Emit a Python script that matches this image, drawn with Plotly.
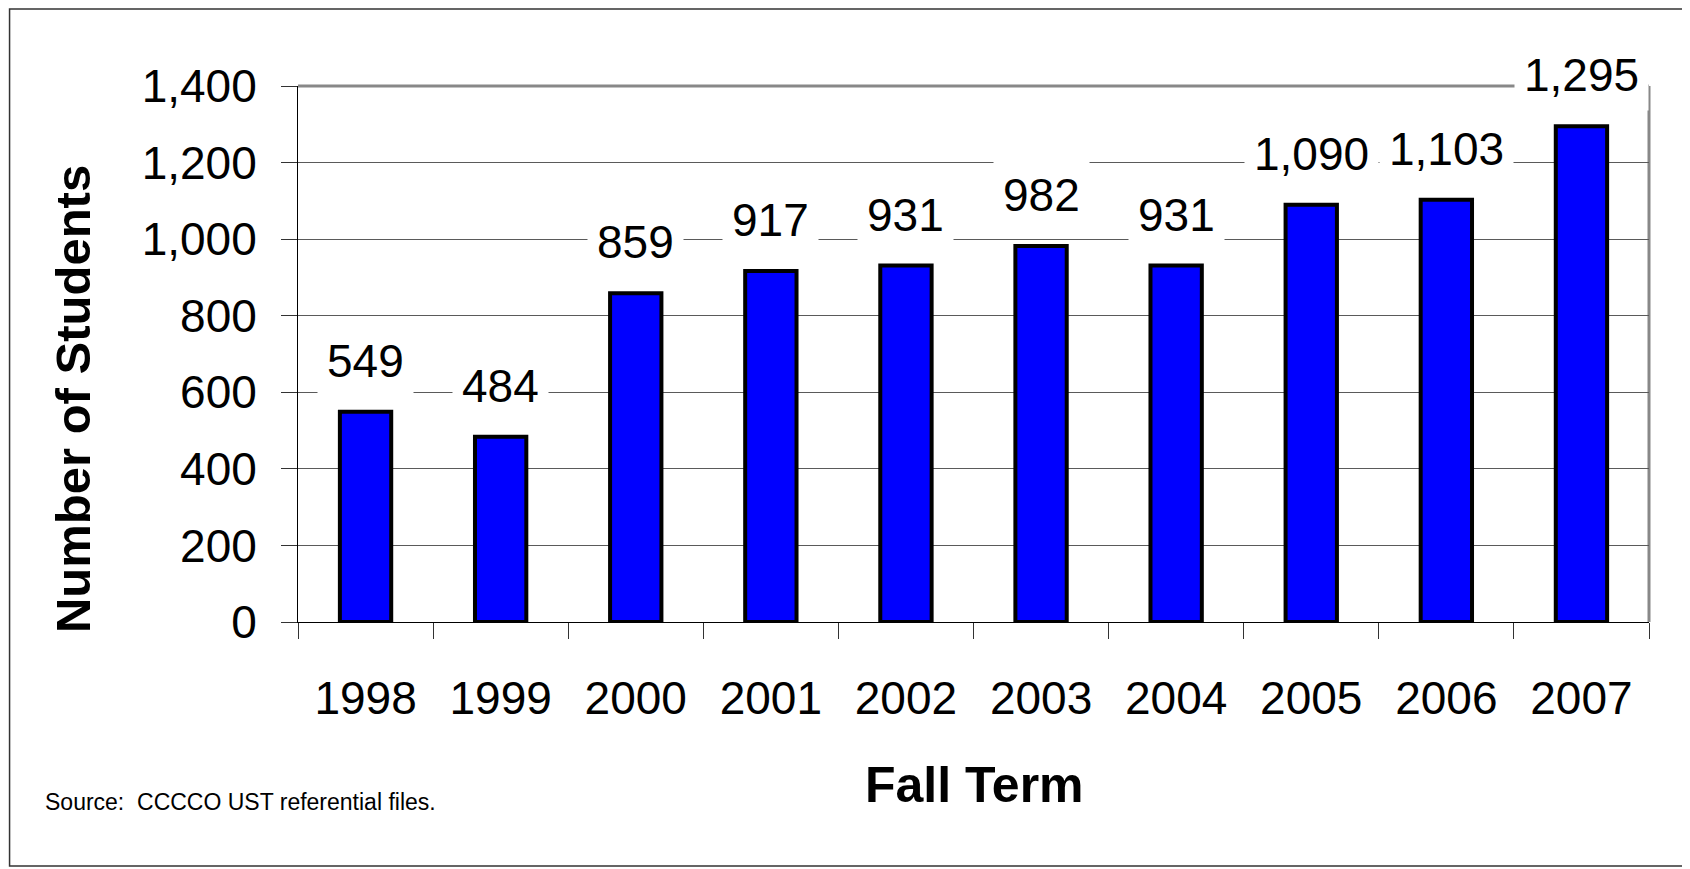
import plotly.graph_objects as go

# Fall term headcounts
years = ['1998', '1999', '2000', '2001', '2002', '2003', '2004', '2005', '2006', '2007']
students = [549, 484, 859, 917, 931, 982, 931, 1090, 1103, 1295]
y_ticks = [0, 200, 400, 600, 800, 1000, 1200, 1400]

FONT = 'Liberation Sans, Arial, sans-serif'

bars = go.Bar(x=years,
              y=students,
              width=0.38,
              marker={'color': '#0000FF',
                      'line': {'color': '#000000', 'width': 4}},
              hoverinfo='skip')

# value labels with white boxes that break the grid lines
# (x given as category index, otherwise '1998' is read as a number)
labels = []
for i, n in enumerate(students):
    labels.append(dict(x=i, y=n, xref='x', yref='y',
                       text=f'{n:,}', showarrow=False,
                       yanchor='middle', yshift=51,
                       bgcolor='white', borderpad=9,
                       font={'family': FONT, 'size': 46, 'color': 'black'}))

labels.append(dict(x=-0.1665, y=0.416, xref='paper', yref='paper',
                   text='<b>Number of Students</b>', textangle=-90,
                   showarrow=False, xanchor='center', yanchor='middle',
                   font={'family': FONT, 'size': 49, 'color': 'black'}))
labels.append(dict(x=0.501, y=-0.304, xref='paper', yref='paper',
                   text='<b>Fall Term</b>', showarrow=False,
                   xanchor='center', yanchor='middle',
                   font={'family': FONT, 'size': 50, 'color': 'black'}))
labels.append(dict(x=-0.1888, y=-0.336, xref='paper', yref='paper',
                   text='Source:  CCCCO UST referential files.', showarrow=False,
                   xanchor='left', yanchor='middle',
                   font={'family': FONT, 'size': 23, 'color': 'black'}))

frame = [
    # outer border of the chart
    dict(type='rect', xref='paper', yref='paper',
         x0=-0.2135, x1=1.0281, y0=-0.4552, y1=1.1435,
         line={'color': '#333333', 'width': 1.5}, layer='below'),
    # grey top and right edges of the plot area
    dict(type='line', xref='paper', yref='paper', x0=0, x1=1, y0=1, y1=1,
         line={'color': '#888888', 'width': 3}, layer='below'),
    dict(type='line', xref='paper', yref='paper', x0=1, x1=1, y0=0, y1=1,
         line={'color': '#888888', 'width': 3}, layer='below'),
]

# page body has an 8px margin, so the figure is 8px smaller than the window
layout = go.Layout(width=1682, height=861,
                   margin={'l': 290, 'r': 41, 't': 78, 'b': 247},
                   paper_bgcolor='white', plot_bgcolor='white',
                   showlegend=False,
                   font={'family': FONT, 'color': 'black'},
                   xaxis={'type': 'category',
                          'range': [-0.5, len(years) - 0.5],
                          'tickangle': 0,
                          'tickfont': {'size': 46},
                          'ticks': 'outside', 'tickson': 'boundaries',
                          'ticklen': 16, 'tickcolor': '#333333', 'tickwidth': 1,
                          'ticklabelstandoff': 36,
                          'showline': True, 'linecolor': '#000000', 'linewidth': 1,
                          'showgrid': False},
                   yaxis={'range': [0, 1400],
                          'tickvals': y_ticks, 'tickformat': ',',
                          'tickfont': {'size': 46},
                          'ticks': 'outside', 'ticklen': 16,
                          'tickcolor': '#333333', 'tickwidth': 1,
                          'ticklabelstandoff': 15,
                          'showline': True, 'linecolor': '#000000', 'linewidth': 1,
                          'showgrid': True, 'gridcolor': '#5a5a5a', 'gridwidth': 1.3,
                          'zeroline': False},
                   annotations=labels,
                   shapes=frame)

fig = go.Figure(data=[bars], layout=layout)
fig.write_html("out.html", config={'displayModeBar': False})
